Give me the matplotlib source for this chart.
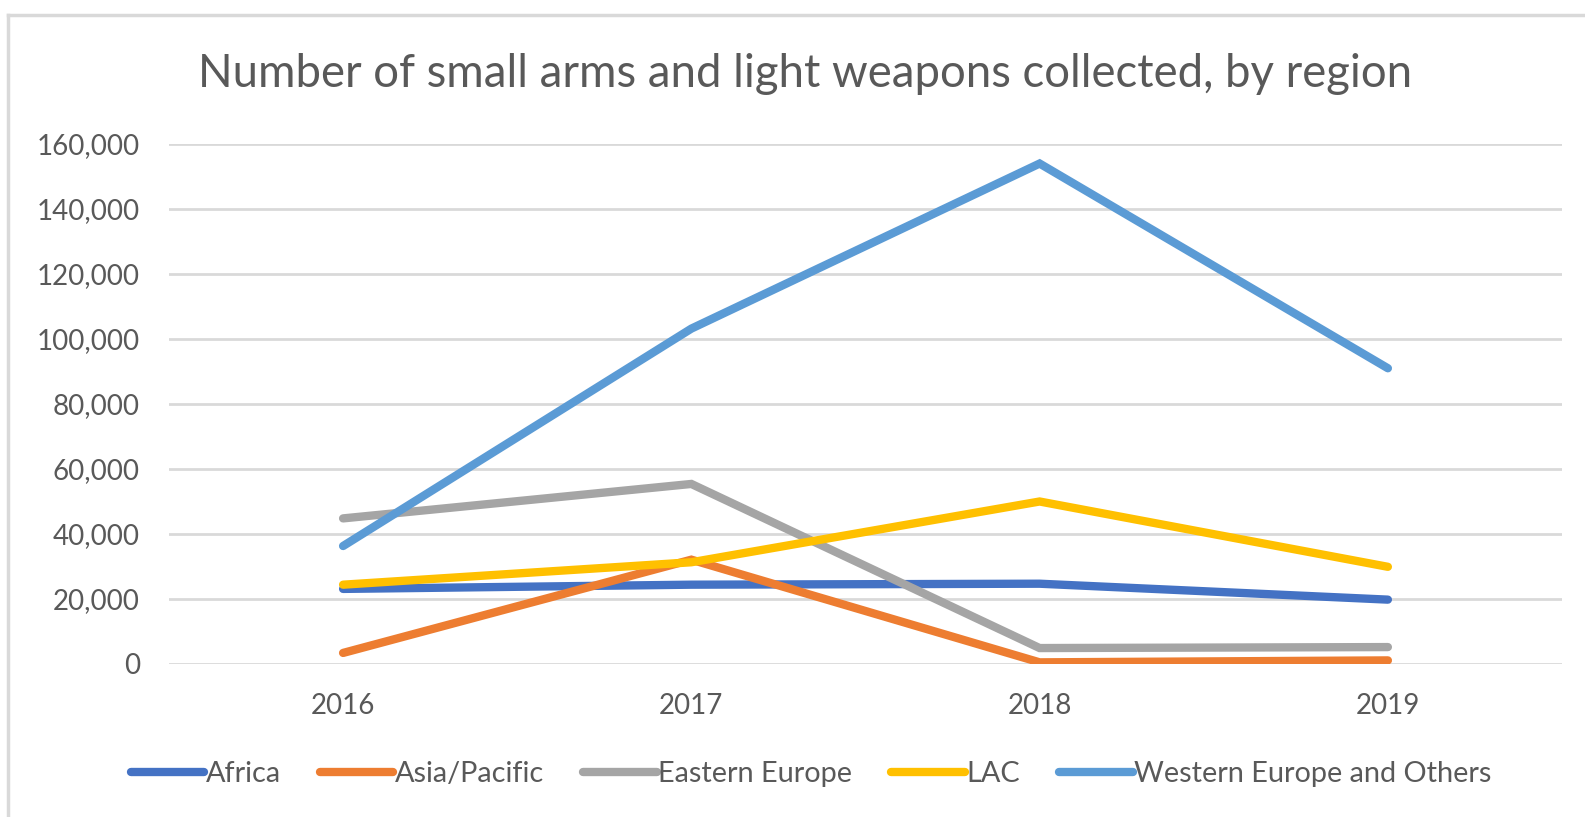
import matplotlib
matplotlib.use('Agg')
import matplotlib.pyplot as plt
from matplotlib.lines import Line2D
from matplotlib.ticker import FuncFormatter

# weapons collected per region, 2016-2019
years = ['2016', '2017', '2018', '2019']
africa = [23100, 24400, 24700, 19800]
asia_pacific = [3400, 32100, 500, 1100]
eastern_europe = [44800, 55400, 4900, 5200]
lac = [24400, 31300, 50000, 29900]
weog = [36300, 103200, 154000, 91000]

regions = ['Africa', 'Asia/Pacific', 'Eastern Europe', 'LAC', 'Western Europe and Others']
series = [africa, asia_pacific, eastern_europe, lac, weog]
colors = ['#4472C4', '#ED7D31', '#A5A5A5', '#FFC000', '#5B9BD5']

plt.rcParams['font.family'] = ['Lato', 'DejaVu Sans']
txt = '#595959'

fig = plt.figure(figsize=(15.85, 8.17), dpi=100, facecolor='white')
ax = fig.add_axes([0.1066, 0.1873, 0.8789, 0.6364])

x = range(len(years))
for vals, name, c in zip(series, regions, colors):
    ax.plot(x, vals, color=c, lw=6, solid_capstyle='round',
            solid_joinstyle='miter', label=name)

ax.set_xlim(-0.5, len(years) - 0.5)
ax.set_ylim(0, 160000)
ax.set_yticks(range(0, 160001, 20000))
ax.yaxis.set_major_formatter(FuncFormatter(lambda v, p: f'{int(v):,}'))
ax.set_xticks(list(x))
ax.set_xticklabels(years)
ax.grid(axis='y', color='#D9D9D9', lw=2)
ax.set_axisbelow(True)
for s in ax.spines.values():
    s.set_visible(False)
ax.tick_params(axis='both', length=0, colors=txt, labelsize=20)
ax.tick_params(axis='y', pad=21)
ax.tick_params(axis='x', pad=21)

fig.text(0.508, 1 - 74 / 817, 'Number of small arms and light weapons collected, by region',
         ha='center', va='center', fontsize=32.8, color=txt)

fig.legend(loc='center', bbox_to_anchor=(811 / 1585, 1 - 774 / 817), ncol=5,
           frameon=False, fontsize=20.8, labelcolor=txt, handlelength=2.55,
           handletextpad=0.05, columnspacing=1.35)

# chart frame
fig.add_artist(Line2D([8 / 1585, 8 / 1585], [0, 1 - 15 / 817], color='#D9D9D9', lw=2.5,
                      transform=fig.transFigure))
fig.add_artist(Line2D([8 / 1585, 1], [1 - 15 / 817, 1 - 15 / 817], color='#D9D9D9', lw=2.5,
                      transform=fig.transFigure))

plt.savefig('out.png', dpi=100)
